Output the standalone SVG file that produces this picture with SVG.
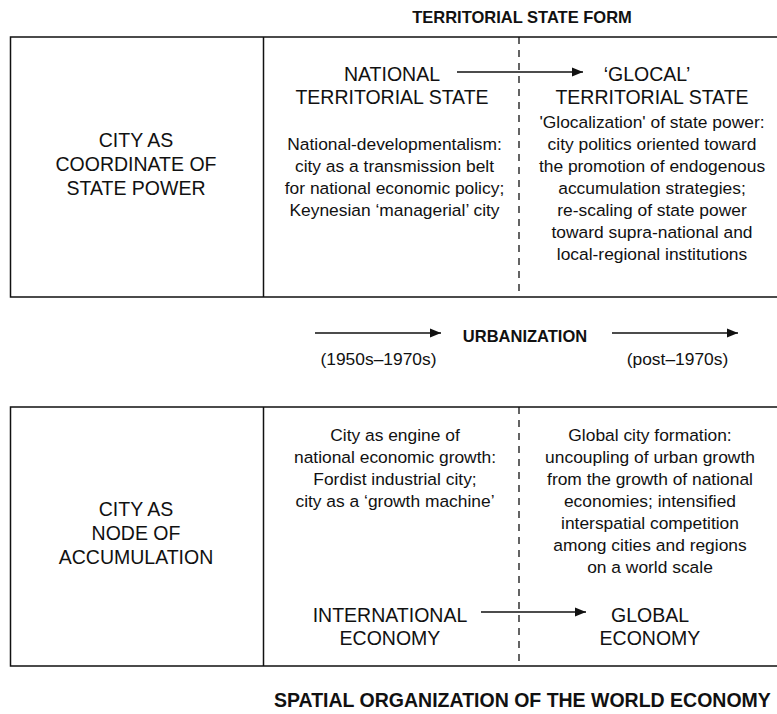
<svg xmlns="http://www.w3.org/2000/svg" width="777" height="714" viewBox="0 0 777 714">
<style>
text{font-family:"Liberation Sans",Arial,Helvetica,sans-serif;fill:#111;text-anchor:middle}
.h{font-size:19.5px}
.d{font-size:17.4px}
.b{font-weight:bold}
.frame{fill:none;stroke:#111;stroke-width:1.5}
.dash{stroke:#111;stroke-width:1.3;stroke-dasharray:7 6;fill:none}
.arr{stroke:#111;stroke-width:1.3;fill:none;marker-end:url(#ah)}
</style>
<defs>
<marker id="ah" markerWidth="12" markerHeight="10" refX="11" refY="5" orient="auto" markerUnits="userSpaceOnUse">
<path d="M0,0.5 L11,5 L0,9.5 Z" fill="#111"/>
</marker>
</defs>
<rect width="777" height="714" fill="#fff"/>

<g id="title-top"><text class="b" style="font-size:16.5px" x="522" y="23">TERRITORIAL STATE FORM</text></g>

<g id="frames">
<path class="frame" d="M777,37 H10.5 V297 H777 M263.5,37 V297"/>
<path class="frame" d="M777,407 H10.5 V666 H777 M263.5,407 V666"/>
<path class="dash" d="M519,37 V297"/>
<path class="dash" d="M519,407 V666"/>
</g>

<g id="city-coordinate">
<text class="h" x="136" y="147">CITY AS</text>
<text class="h" x="136" y="171">COORDINATE OF</text>
<text class="h" x="136" y="195">STATE POWER</text>
</g>

<g id="national-state">
<text class="h" x="392" y="81">NATIONAL</text>
<text class="h" x="392" y="104">TERRITORIAL STATE</text>
<text class="d" x="394.5" y="150">National-developmentalism:</text>
<text class="d" x="394.5" y="172">city as a transmission belt</text>
<text class="d" x="394.5" y="194">for national economic policy;</text>
<text class="d" x="394.5" y="216">Keynesian ‘managerial’ city</text>
</g>

<g id="glocal-state">
<text class="h" x="647" y="81">‘GLOCAL’</text>
<text class="h" x="652" y="104">TERRITORIAL STATE</text>
<text class="d" x="652" y="128">'Glocalization' of state power:</text>
<text class="d" x="652" y="150">city politics oriented toward</text>
<text class="d" x="652" y="172">the promotion of endogenous</text>
<text class="d" x="652" y="194">accumulation strategies;</text>
<text class="d" x="652" y="216">re-scaling of state power</text>
<text class="d" x="652" y="238">toward supra-national and</text>
<text class="d" x="652" y="260">local-regional institutions</text>
</g>

<g id="urbanization">
<text class="b" style="font-size:16.5px" x="525" y="342">URBANIZATION</text>
<text class="d" x="378.5" y="365">(1950s–1970s)</text>
<text class="d" x="677.5" y="365">(post–1970s)</text>
</g>

<g id="city-node">
<text class="h" x="136" y="516">CITY AS</text>
<text class="h" x="136" y="540">NODE OF</text>
<text class="h" x="136" y="564">ACCUMULATION</text>
</g>

<g id="international-economy">
<text class="d" x="395" y="441">City as engine of</text>
<text class="d" x="395" y="463">national economic growth:</text>
<text class="d" x="395" y="485">Fordist industrial city;</text>
<text class="d" x="395" y="507">city as a ‘growth machine’</text>
<text class="h" x="390" y="622">INTERNATIONAL</text>
<text class="h" x="390" y="645">ECONOMY</text>
</g>

<g id="global-economy">
<text class="d" x="650" y="441">Global city formation:</text>
<text class="d" x="650" y="463">uncoupling of urban growth</text>
<text class="d" x="650" y="485">from the growth of national</text>
<text class="d" x="650" y="507">economies; intensified</text>
<text class="d" x="650" y="529">interspatial competition</text>
<text class="d" x="650" y="551">among cities and regions</text>
<text class="d" x="650" y="573">on a world scale</text>
<text class="h" x="650" y="622">GLOBAL</text>
<text class="h" x="650" y="645">ECONOMY</text>
</g>

<g id="title-bottom"><text class="b" style="font-size:19.5px;text-anchor:start" x="274" y="707">SPATIAL ORGANIZATION OF THE WORLD ECONOMY</text></g>

<g id="connectors">
<path class="arr" d="M457,72 H583"/>
<path class="arr" d="M315,333 H441"/>
<path class="arr" d="M612,333 H738"/>
<path class="arr" d="M481,612 H586"/>
</g>
</svg>
